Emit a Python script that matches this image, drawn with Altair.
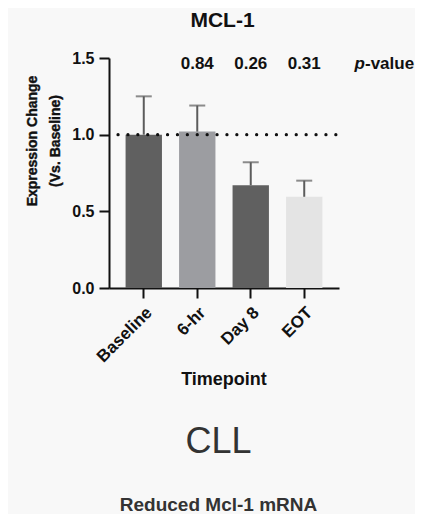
import altair as alt
import pandas as pd

timepoints = ["Baseline", "6-hr", "Day 8", "EOT"]
means = [1.0, 1.02, 0.67, 0.595]
upper = [1.25, 1.19, 0.82, 0.70]
pvals = ["", "0.84", "0.26", "0.31"]
bar_colors = ["#606060", "#9c9da1", "#606060", "#e4e4e4"]
y_ticks = [0.0, 0.5, 1.0, 1.5]

df = pd.DataFrame({"tp": timepoints, "mean": means, "upper": upper, "p": pvals})

FONT = "Liberation Sans"
W, H = 230, 230

x = alt.X("tp:N", sort=timepoints,
          scale=alt.Scale(paddingInner=0.32, paddingOuter=0.31),
          axis=alt.Axis(title=None, labelAngle=-45, labelFontSize=17, labelFontWeight="bold",
                        labelColor="#111", labelFont=FONT, tickSize=10, tickWidth=2,
                        tickColor="#111", domainColor="#111", domainWidth=2, labelPadding=6))
y = alt.Y("mean:Q", scale=alt.Scale(domain=[0, 1.5], nice=False),
          axis=alt.Axis(title=None, values=y_ticks, format=".1f", labelFontSize=16,
                        labelFontWeight="bold", labelColor="#111", labelFont=FONT,
                        tickSize=10, tickWidth=2, tickColor="#111", domainColor="#111",
                        domainWidth=2, labelPadding=5, grid=False))

base = alt.Chart(df)

bars = base.mark_bar().encode(
    x=x, y=y,
    color=alt.Color("tp:N", sort=timepoints, legend=None,
                    scale=alt.Scale(domain=timepoints, range=bar_colors)))

err = base.mark_rule(color="#5c5c5c", strokeWidth=2).encode(
    x=alt.X("tp:N", sort=timepoints), y="mean:Q", y2="upper:Q")
cap = base.mark_tick(color="#5c5c5c", thickness=2, size=16, orient="horizontal").encode(
    x=alt.X("tp:N", sort=timepoints), y="upper:Q")

ref = alt.Chart(pd.DataFrame({"v": [1.0]})).mark_rule(
    color="#111", strokeWidth=3.2, strokeDash=[0.1, 9.8], strokeCap="round").encode(
    y="v:Q", x=alt.value(9), x2=alt.value(229))

ptext = base.mark_text(font=FONT, fontSize=17, fontWeight="bold", color="#111",
                       baseline="alphabetic").encode(
    x=alt.X("tp:N", sort=timepoints), y=alt.value(11), text="p:N")

def label(txt, xpx, ypx, size, weight="bold", align="center", angle=0, style="normal",
          color="#111", baseline="alphabetic", stroke_w=0.0):
    kw = {}
    if stroke_w > 0:
        kw = {"stroke": color, "strokeWidth": stroke_w}
    return alt.Chart(pd.DataFrame({"t": [txt]})).mark_text(
        font=FONT, fontSize=size, fontWeight=weight, align=align, angle=angle,
        fontStyle=style, color=color, baseline=baseline, **kw).encode(
        x=alt.value(xpx), y=alt.value(ypx), text="t:N")

texts = [
    label("MCL-1", 113.5, -31, 21),
    label("p", 256, 11, 17, align="right", style="italic"),
    label("-value", 256, 11, 17, align="left"),
    label("Expression Change", -76, 83, 14, angle=270, baseline="middle", stroke_w=0.4),
    label("(Vs. Baseline)", -53, 83, 14, angle=270, baseline="middle", stroke_w=0.4),
    label("Timepoint", 115, 327, 18),
    label("CLL", 109.5, 395, 36, weight="normal", color="#333"),
    label("Reduced Mcl-1 mRNA", 109.5, 453, 19, color="#333"),
]

chart = alt.layer(bars, err, cap, ref, ptext, *texts).properties(
    width=W, height=H,
    autosize=alt.AutoSizeParams(type="none"),
    padding={"left": 101, "top": 50, "right": 76, "bottom": 226},
    background="#f8f8f8",
).configure_view(stroke=None)

chart.save("out.html", embed_options={"renderer": "svg", "actions": False})
